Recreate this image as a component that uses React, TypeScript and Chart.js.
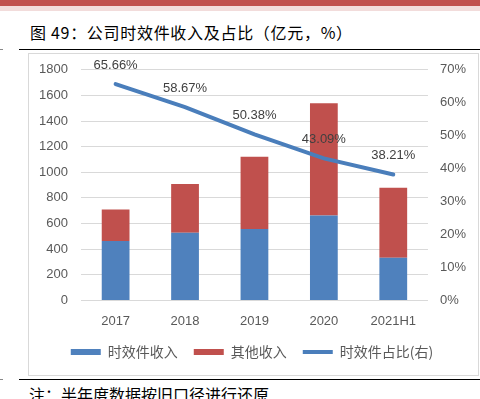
import React, { useEffect, useRef } from "react";
import { Chart, registerables } from "chart.js";

Chart.register(...registerables);

const categories = ["2017", "2018", "2019", "2020", "2021H1"];
const timeExpressRevenue = [463, 529, 557, 662, 333];
const otherRevenue = [247, 380, 565, 877, 547];
const timeExpressShare = [65.66, 58.67, 50.38, 43.09, 38.21];
const leftTicks = [0, 200, 400, 600, 800, 1000, 1200, 1400, 1600, 1800];
const rightTicks = [0, 10, 20, 30, 40, 50, 60, 70];

const FONT = "'Liberation Sans', Arial, sans-serif";
const CJK = "'Noto Sans CJK SC', sans-serif";

const labelPlugin = {
  id: "lineLabels",
  afterDatasetsDraw(chart: any) {
    const ctx = chart.ctx;
    chart.data.datasets.forEach((ds: any, i: number) => {
      if (ds.type !== "line") return;
      const meta = chart.getDatasetMeta(i);
      ctx.save();
      ctx.font = `13px ${FONT}`;
      ctx.fillStyle = "#404040";
      ctx.textAlign = "center";
      ctx.textBaseline = "middle";
      meta.data.forEach((pt: any, j: number) => {
        ctx.fillText(ds.data[j].toFixed(2) + "%", pt.x, pt.y - 19);
      });
      ctx.restore();
    });
  },
};

function ChartBox() {
  const ref = useRef<HTMLCanvasElement>(null);
  useEffect(() => {
    const chart = new Chart(ref.current!, {
      type: "bar",
      data: {
        labels: categories,
        datasets: [
          {
            type: "bar",
            label: "时效件收入",
            data: timeExpressRevenue,
            backgroundColor: "#4f81bd",
            stack: "rev",
            yAxisID: "y",
            barPercentage: 0.4,
            categoryPercentage: 1,
            pointStyle: "rect",
            borderWidth: 0,
            order: 2,
          },
          {
            type: "bar",
            label: "其他收入",
            data: otherRevenue,
            backgroundColor: "#c0504d",
            stack: "rev",
            yAxisID: "y",
            barPercentage: 0.4,
            categoryPercentage: 1,
            pointStyle: "rect",
            borderWidth: 0,
            order: 2,
          },
          {
            type: "line",
            label: "时效件占比(右)",
            data: timeExpressShare,
            borderColor: "#4a7ebb",
            backgroundColor: "#4a7ebb",
            borderWidth: 4,
            pointRadius: 0,
            pointStyle: "line",
            tension: 0,
            borderCapStyle: "round",
            yAxisID: "y1",
            order: 1,
          },
        ] as any,
      },
      options: {
        animation: false,
        responsive: false,
        maintainAspectRatio: false,
        layout: { padding: { left: 0, right: 0, top: 3, bottom: 6 } },
        plugins: {
          tooltip: { enabled: false },
          legend: {
            position: "bottom",
            labels: {
              usePointStyle: true,
              pointStyleWidth: 30,
              boxHeight: 6,
              padding: 16,
              color: "#595959",
              font: { family: CJK, size: 14 },
              sort: (a: any, b: any) => a.datasetIndex - b.datasetIndex,
            },
          },
        },
        scales: {
          x: {
            stacked: true,
            grid: { display: false, drawTicks: false },
            border: { display: false },
            ticks: { color: "#595959", font: { family: FONT, size: 13 }, padding: 13 },
            afterFit: (axis: any) => {
              axis.height -= 13;
            },
          },
          y: {
            stacked: true,
            min: 0,
            max: 1800,
            afterBuildTicks: (axis: any) => {
              axis.ticks = leftTicks.map((v) => ({ value: v }));
            },
            grid: { color: "#d9d9d9", drawTicks: false, lineWidth: 1 },
            border: { display: false },
            ticks: {
              color: "#595959",
              font: { family: FONT, size: 13 },
              padding: 13,
              callback: (v: any) => String(v),
            },
          },
          y1: {
            position: "right",
            min: 0,
            max: 70,
            afterBuildTicks: (axis: any) => {
              axis.ticks = rightTicks.map((v) => ({ value: v }));
            },
            grid: { display: false, drawTicks: false },
            border: { display: false },
            ticks: {
              color: "#595959",
              font: { family: FONT, size: 13 },
              padding: 12,
              callback: (v: any) => v + "%",
            },
          },
        },
      } as any,
      plugins: [labelPlugin],
    });
    return () => chart.destroy();
  }, []);
  return (
    <canvas
      ref={ref}
      width={452}
      height={326}
      style={{ display: "block", position: "absolute", left: 26, top: 49 }}
    />
  );
}

export default function App() {
  return (
    <div
      style={{
        position: "fixed",
        left: 0,
        top: 0,
        width: 480,
        height: 399,
        background: "#fff",
        overflow: "hidden",
      }}
    >
      <div style={{ position: "absolute", left: 0, top: 0, width: 480, height: 6, background: "#c0504d" }} />
      <div style={{ position: "absolute", left: 0, top: 6, width: 480, height: 5, background: "#f2dcdb" }} />
      <div
        style={{
          position: "absolute",
          left: 30,
          top: 20,
          fontFamily: CJK,
          fontSize: 16,
          letterSpacing: "0.7px",
          lineHeight: "24px",
          color: "#000",
          whiteSpace: "nowrap",
        }}
      >
        图 49：公司时效件收入及占比（亿元，%）
      </div>
      <div style={{ position: "absolute", left: 19, top: 49, width: 461, height: 1, background: "#000" }} />
      <div style={{ position: "absolute", left: 0, top: 49, width: 3, height: 1, background: "#888" }} />
      <div
        style={{
          position: "absolute",
          left: 28,
          top: 53,
          width: 449,
          height: 321,
          border: "1px solid #d9d9d9",
        }}
      />
      <ChartBox />
      <div style={{ position: "absolute", left: 19, top: 379, width: 461, height: 1, background: "#000" }} />
      <div style={{ position: "absolute", left: 0, top: 379, width: 3, height: 1, background: "#888" }} />
      <div
        style={{
          position: "absolute",
          left: 29,
          top: 383,
          fontFamily: CJK,
          fontSize: 16,
          lineHeight: "22px",
          color: "#000",
          whiteSpace: "nowrap",
        }}
      >
        注：半年度数据按旧口径进行还原
      </div>
    </div>
  );
}
